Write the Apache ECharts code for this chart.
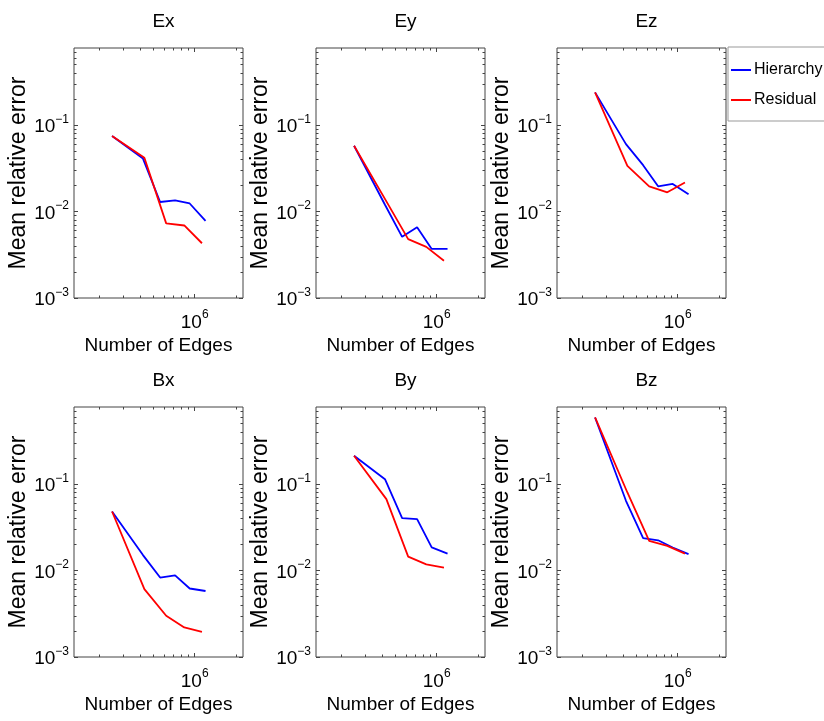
<!DOCTYPE html>
<html>
<head>
<meta charset="utf-8">
<script src="https://cdn.jsdelivr.net/npm/echarts@6/dist/echarts.min.js"></script>
<style>
html,body{margin:0;padding:0;background:#fff;}
#chart{width:824px;height:721px;}
</style>
</head>
<body>
<div id="chart"></div>
<script>
// ---- data ----
const panelTitles = ['Ex', 'Ey', 'Ez', 'Bx', 'By', 'Bz'];
const seriesNames = ['Hierarchy', 'Residual'];
const hierarchyEdges = [2.5e5, 4.2e5, 5.6e5, 7.2e5, 9.2e5, 1.2e6];
const residualEdges = [2.5e5, 4.3e5, 6.2e5, 8.4e5, 1.13e6];

const hierEx = [0.075, 0.041, 0.0129, 0.0135, 0.0124, 0.0078];
const resEx  = [0.075, 0.042, 0.0073, 0.0069, 0.0043];
const hierEy = [0.0577, 0.012, 0.0051, 0.0066, 0.0037, 0.0037];
const resEy  = [0.0577, 0.0131, 0.0048, 0.0039, 0.0027];
const hierEz = [0.239, 0.0603, 0.0344, 0.0196, 0.0209, 0.0159];
const resEz  = [0.239, 0.0338, 0.0196, 0.0167, 0.0217];
const hierBx = [0.0482, 0.0151, 0.0083, 0.0088, 0.0062, 0.0058];
const resBx  = [0.0482, 0.0061, 0.0030, 0.0022, 0.00195];
const hierBy = [0.213, 0.114, 0.0404, 0.0394, 0.0185, 0.0157];
const resBy  = [0.213, 0.067, 0.0145, 0.0118, 0.0108];
const hierBz = [0.59, 0.0641, 0.0237, 0.0224, 0.0185, 0.0155];
const resBz  = [0.59, 0.080, 0.0221, 0.0193, 0.0157];

const hierarchyValues = [hierEx, hierEy, hierEz, hierBx, hierBy, hierBz];
const residualValues = [resEx, resEy, resEz, resBx, resBy, resBz];

const xMajorTicks = [1e6];
const xMinorTicks = [2e5, 3e5, 4e5, 5e5, 6e5, 7e5, 8e5, 9e5, 2e6];
const yMajorTicks = [1e-3, 1e-2, 1e-1];
const yMinorTicks = [2e-3, 3e-3, 4e-3, 5e-3, 6e-3, 7e-3, 8e-3, 9e-3,
                     2e-2, 3e-2, 4e-2, 5e-2, 6e-2, 7e-2, 8e-2, 9e-2,
                     2e-1, 3e-1, 4e-1, 5e-1, 6e-1, 7e-1];
const xRange = [1.32e5, 2.25e6];
const yRange = [1e-3, 0.78];

// ---- layout / style ----
const FONT = "'Liberation Sans', Arial, Helvetica, sans-serif";
const colLefts = [74, 316, 557];
const rowTops = [48, 407];
const gridW = 169, gridH = 250;
const axisColor = '#444';
const blue = '#0000ff', red = '#ff0000';

function powLabel(v) {
  const e = Math.round(Math.log10(v));
  const s = e < 0 ? '\u2212' + (-e) : String(e);
  return '{b|10}{s|' + s + '}';
}
const richTicks = {
  b: { fontSize: 19, fontFamily: FONT, color: '#000', verticalAlign: 'bottom' },
  s: { fontSize: 12, fontFamily: FONT, color: '#000', padding: [0, 0, 11, 0], verticalAlign: 'top' }
};

const grids = [], xAxes = [], yAxes = [], series = [], titles = [];

panelTitles.forEach((t, i) => {
  const r = Math.floor(i / 3), c = i % 3;
  grids.push({
    left: colLefts[c], top: rowTops[r], width: gridW, height: gridH,
    show: true, borderColor: axisColor, borderWidth: 1, backgroundColor: 'transparent',
    containLabel: false
  });
  titles.push({
    text: t, left: colLefts[c] + gridW / 2, top: rowTops[r] - 41, textAlign: 'center',
    textStyle: { fontSize: 19, fontWeight: 'normal', color: '#000', fontFamily: FONT }
  });
  const xb = xAxes.length;
  const baseX = { type: 'log', logBase: 10, gridIndex: i, min: xRange[0], max: xRange[1],
    axisLine: { show: false }, splitLine: { show: false }, minorTick: { show: false } };
  xAxes.push(Object.assign({}, baseX, {
    position: 'bottom',
    axisTick: { inside: true, length: 4, customValues: xMajorTicks, lineStyle: { color: axisColor } },
    axisLabel: { customValues: xMajorTicks, formatter: powLabel, rich: richTicks, margin: 11 },
    name: 'Number of Edges', nameLocation: 'middle', nameGap: 38,
    nameTextStyle: { fontSize: 19, color: '#000', fontFamily: FONT }
  }));
  xAxes.push(Object.assign({}, baseX, { position: 'bottom',
    axisTick: { inside: true, length: 2.5, customValues: xMinorTicks, lineStyle: { color: axisColor } },
    axisLabel: { show: false } }));
  xAxes.push(Object.assign({}, baseX, { position: 'top',
    axisTick: { inside: true, length: 4, customValues: xMajorTicks, lineStyle: { color: axisColor } },
    axisLabel: { show: false } }));
  xAxes.push(Object.assign({}, baseX, { position: 'top',
    axisTick: { inside: true, length: 2.5, customValues: xMinorTicks, lineStyle: { color: axisColor } },
    axisLabel: { show: false } }));

  const yb = yAxes.length;
  const baseY = { type: 'log', logBase: 10, gridIndex: i, min: yRange[0], max: yRange[1],
    axisLine: { show: false }, splitLine: { show: false }, minorTick: { show: false } };
  yAxes.push(Object.assign({}, baseY, {
    position: 'left',
    axisTick: { inside: true, length: 4, customValues: yMajorTicks, lineStyle: { color: axisColor } },
    axisLabel: { customValues: yMajorTicks, formatter: powLabel, rich: richTicks, margin: 5 },
    name: 'Mean relative error', nameLocation: 'middle', nameGap: 30,
    nameTextStyle: { fontSize: 23, color: '#000', fontFamily: FONT }
  }));
  yAxes.push(Object.assign({}, baseY, { position: 'left',
    axisTick: { inside: true, length: 2.5, customValues: yMinorTicks, lineStyle: { color: axisColor } },
    axisLabel: { show: false } }));
  yAxes.push(Object.assign({}, baseY, { position: 'right',
    axisTick: { inside: true, length: 4, customValues: yMajorTicks, lineStyle: { color: axisColor } },
    axisLabel: { show: false } }));
  yAxes.push(Object.assign({}, baseY, { position: 'right',
    axisTick: { inside: true, length: 2.5, customValues: yMinorTicks, lineStyle: { color: axisColor } },
    axisLabel: { show: false } }));

  series.push({
    name: seriesNames[0], type: 'line', xAxisIndex: xb, yAxisIndex: yb,
    data: hierarchyEdges.map((x, k) => [x, hierarchyValues[i][k]]),
    symbol: 'none', lineStyle: { color: blue, width: 1.8 }, itemStyle: { color: blue },
    animation: false, z: 3
  });
  series.push({
    name: seriesNames[1], type: 'line', xAxisIndex: xb, yAxisIndex: yb,
    data: residualEdges.map((x, k) => [x, residualValues[i][k]]),
    symbol: 'none', lineStyle: { color: red, width: 1.8 }, itemStyle: { color: red },
    animation: false, z: 4
  });
});

const chart = echarts.init(document.getElementById('chart'), null, { renderer: 'canvas' });
chart.setOption({
  backgroundColor: '#fff',
  animation: false,
  title: titles,
  grid: grids,
  xAxis: xAxes,
  yAxis: yAxes,
  legend: {
    data: seriesNames, orient: 'vertical', left: 728, top: 47,
    icon: 'rect', itemWidth: 20, itemHeight: 2, itemGap: 12,
    padding: [14, 3, 12, 3], borderColor: '#999', borderWidth: 1, backgroundColor: '#fff',
    textStyle: { fontSize: 16, lineHeight: 18, color: '#000', fontFamily: FONT, padding: [0, 0, 0, -2] }
  },
  series: series
});
</script>
</body>
</html>
